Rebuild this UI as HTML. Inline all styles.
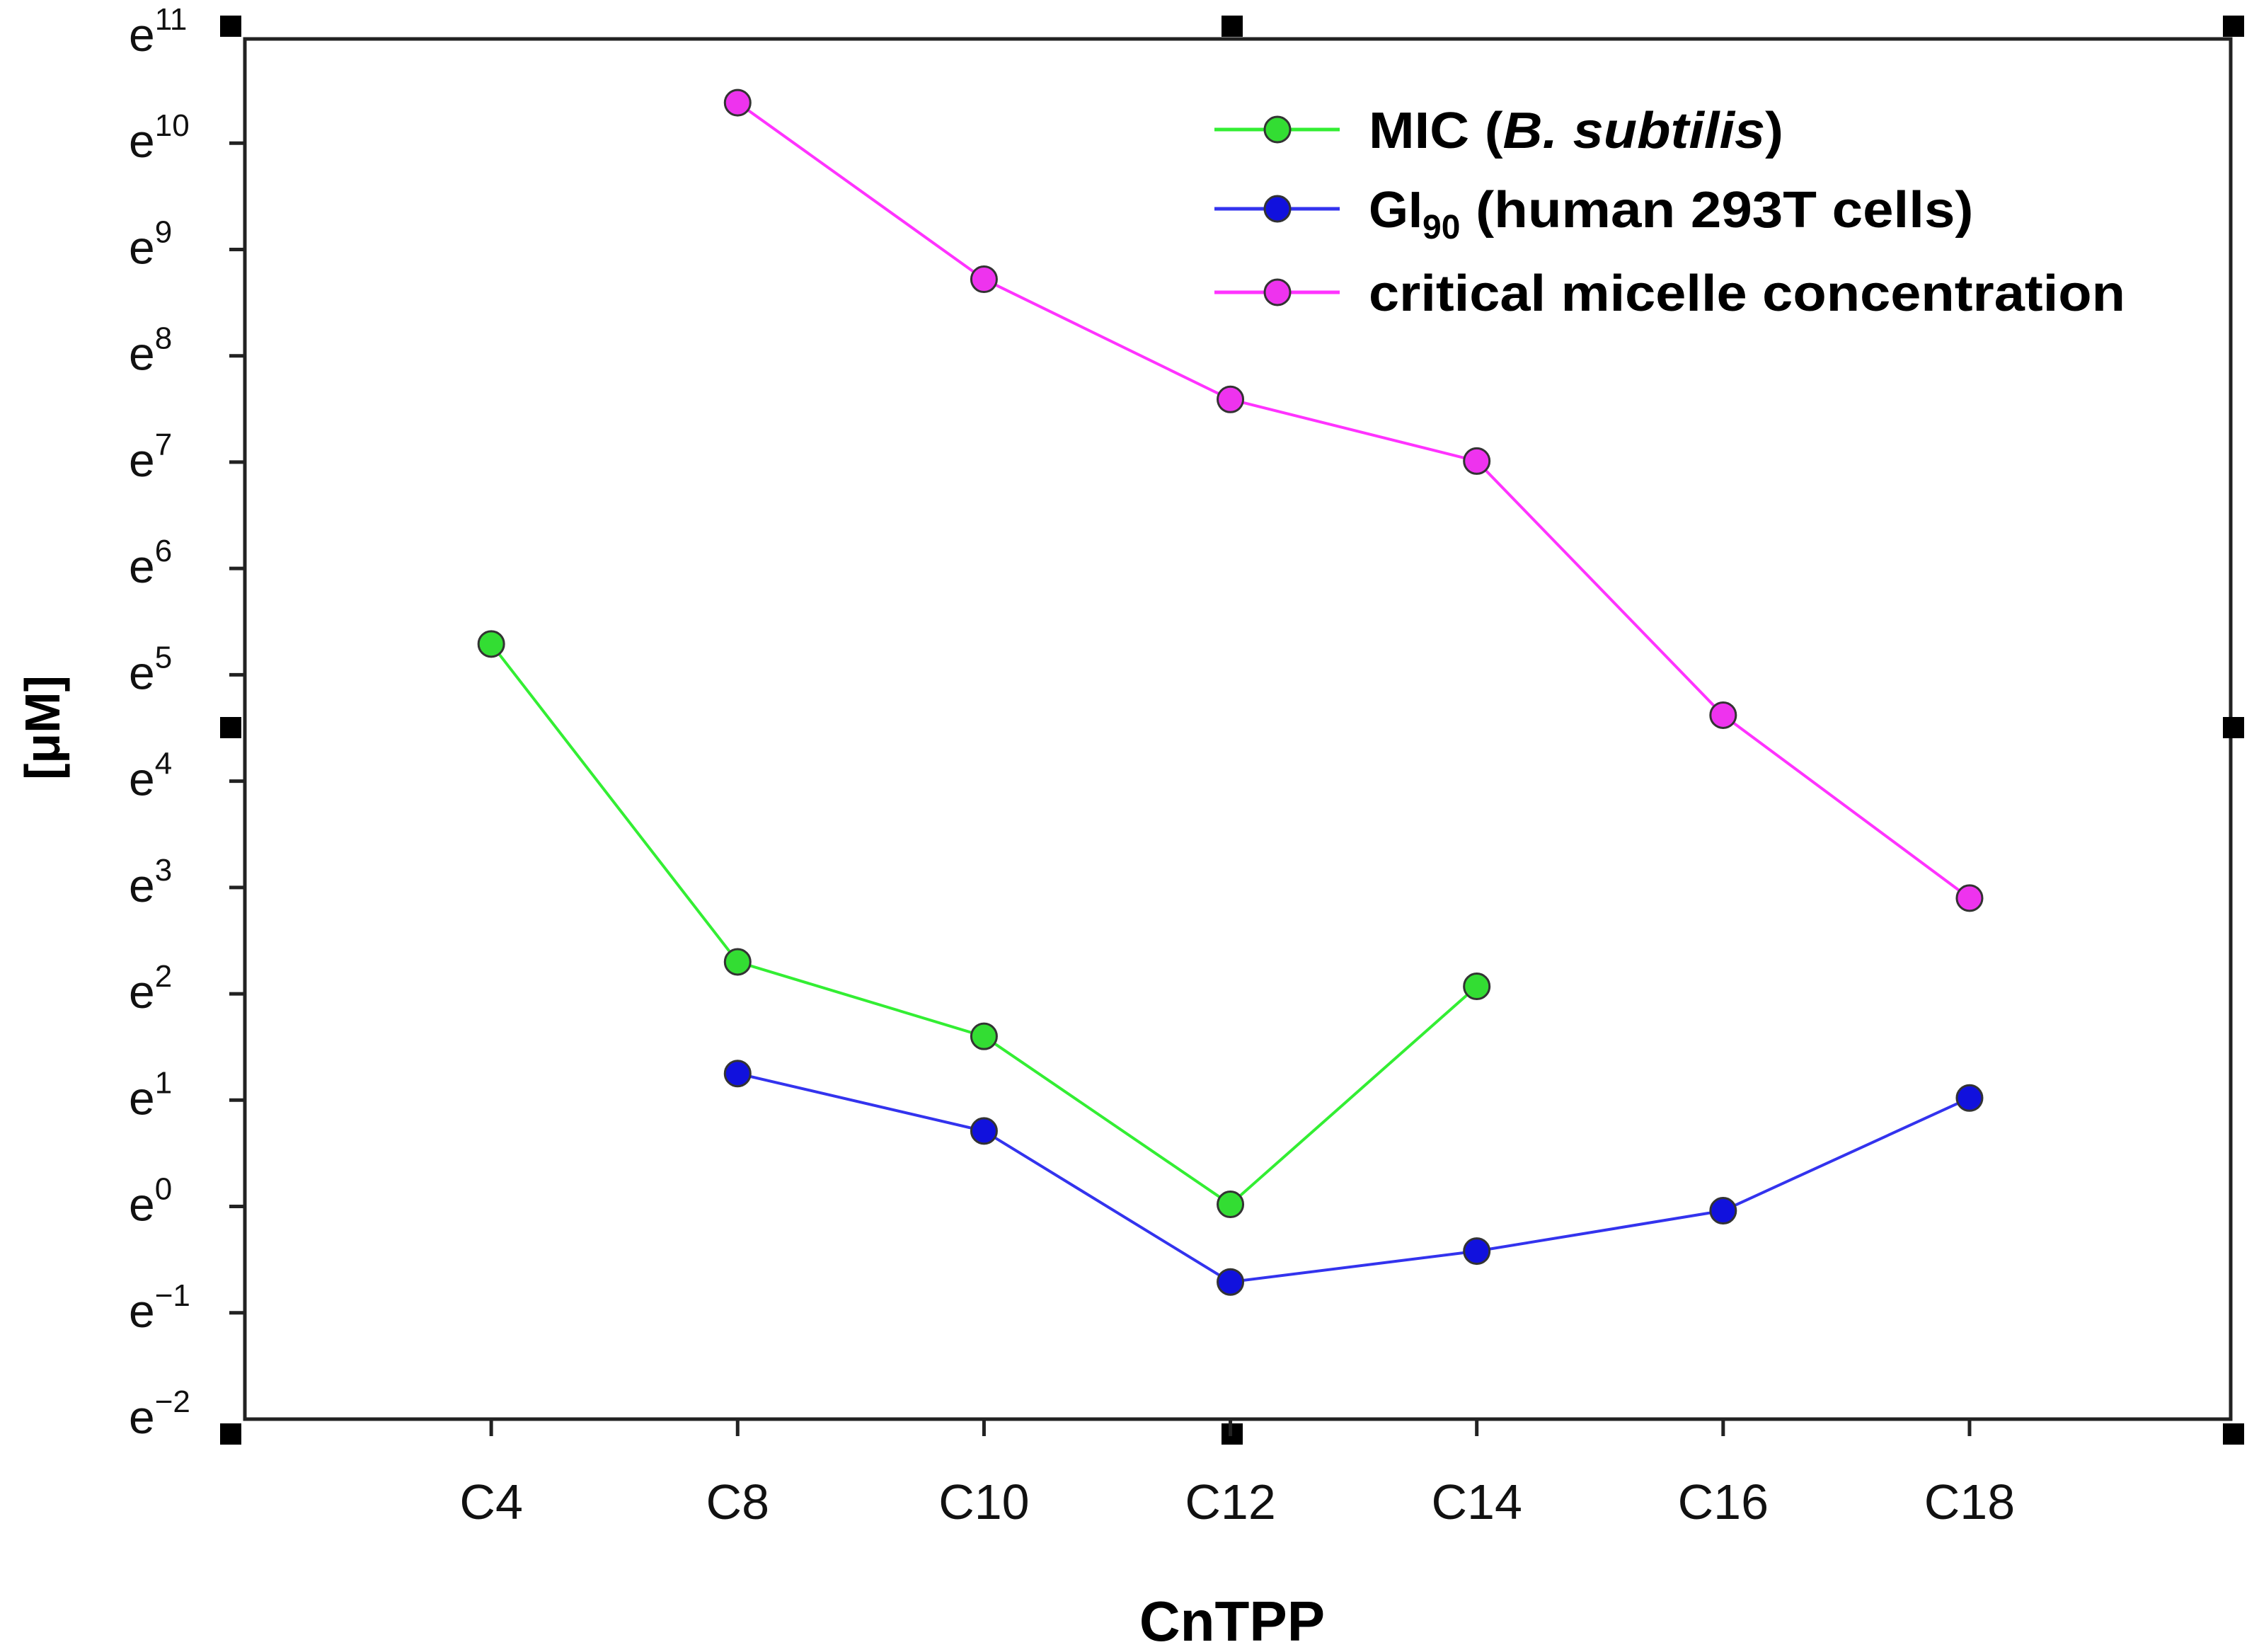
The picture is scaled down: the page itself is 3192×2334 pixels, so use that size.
<!DOCTYPE html>
<html><head><meta charset="utf-8"><style>
html,body{margin:0;padding:0;background:#fff}
svg{display:block}
text{font-family:"Liberation Sans",Arial,sans-serif}
</style></head><body>
<svg id="chart" width="3192" height="2334" viewBox="0 0 3192 2334" xmlns="http://www.w3.org/2000/svg">
<g id="frame"></g>
<g id="yaxis"></g>
<g id="xaxis"></g>
<g id="series"></g>
<text x="1741" y="2318" font-size="80" font-weight="bold" text-anchor="middle">CnTPP</text>
<text transform="translate(84,1028) rotate(-90)" font-size="70" font-weight="bold" text-anchor="middle">[μM]</text>
<g>
  <g>
    <line x1="1716" y1="183" x2="1893" y2="183" stroke="#33ee33" stroke-width="5"/>
    <circle cx="1805" cy="183" r="18" fill="#33dd33" stroke="#333" stroke-width="3"/>
    <text x="1934" y="209" font-size="72" font-weight="bold" textLength="586" lengthAdjust="spacingAndGlyphs">MIC (<tspan font-style="italic">B. subtilis</tspan>)</text>
  </g>
  <g>
    <line x1="1716" y1="295" x2="1893" y2="295" stroke="#3333ee" stroke-width="5"/>
    <circle cx="1805" cy="295" r="18" fill="#1111dd" stroke="#333" stroke-width="3"/>
    <text x="1934" y="321" font-size="72" font-weight="bold">GI<tspan font-size="48" dy="16">90</tspan><tspan dy="-16" textLength="725" lengthAdjust="spacingAndGlyphs"> (human 293T cells)</tspan></text>
  </g>
  <g>
    <line x1="1716" y1="413" x2="1893" y2="413" stroke="#ff33ff" stroke-width="5"/>
    <circle cx="1805" cy="413" r="18" fill="#ee33ee" stroke="#333" stroke-width="3"/>
    <text x="1934" y="439" font-size="72" font-weight="bold" textLength="1069" lengthAdjust="spacingAndGlyphs">critical micelle concentration</text>
  </g>
</g>
</svg>
<script>
const categories = ["C4","C8","C10","C12","C14","C16","C18"];
const yTicks = [-2,-1,0,1,2,3,4,5,6,7,8,9,10,11];
const micCats = ["C4","C8","C10","C12","C14"];
const micValues = [5.29,2.30,1.60,0.02,2.07];
const giCats = ["C8","C10","C12","C14","C16","C18"];
const giValues = [1.25,0.71,-0.71,-0.42,-0.04,1.02];
const cmcCats = ["C8","C10","C12","C14","C16","C18"];
const cmcValues = [10.38,8.72,7.59,7.01,4.62,2.90];

const NS="http://www.w3.org/2000/svg";
const L=346,R=3152,T=52,B=2005;
const xDomain=[0,8.06], yDomain=[-2,11];
function xs(c){const i=categories.indexOf(c)+1;return L+(i-xDomain[0])/(xDomain[1]-xDomain[0])*(R-L);}
function ys(v){return B-(v-yDomain[0])/(yDomain[1]-yDomain[0])*(B-T);}
function mk(tag,attrs,parent){const e=document.createElementNS(NS,tag);for(const k in attrs)e.setAttribute(k,attrs[k]);parent.appendChild(e);return e;}

const frame=document.getElementById('frame');
const box=mk('rect',{x:L,y:ys(11)+3,width:R-L,height:B-ys(11)-3,fill:'none',stroke:'#222','stroke-width':5},frame);


const sq=[[326,37],[1741,37],[3156,37],[326,1028],[3156,1028],[326,2026],[1741,2026],[3156,2026]];
sq.forEach(p=>{const r=mk('rect',{x:p[0]-15,y:p[1]-15,width:30,height:30,fill:'#000'},frame);

});

const ya=document.getElementById('yaxis');
yTicks.forEach(v=>{const y=ys(v);
 if(v>-2&&v<11){const t=mk('line',{x1:L-22,y1:y,x2:L,y2:y,stroke:'#222','stroke-width':5},ya);
 
 }
 const tx=mk('text',{x:182,y:y+20,'font-size':66,fill:'#111'},ya);
 
 
 tx.textContent='e';
 const s=mk('tspan',{'font-size':44,dy:-30},tx);s.textContent=(v<0?'−':'')+Math.abs(v);
});
const xa=document.getElementById('xaxis');
categories.forEach(c=>{const x=xs(c);
 const t=mk('line',{x1:x,y1:B,x2:x,y2:B+24,stroke:'#222','stroke-width':5},xa);
 
 
 const tx=mk('text',{x:x,y:2146,'font-size':70,'text-anchor':'middle',fill:'#111'},xa);
 
 
 tx.textContent=c;});

const sg=document.getElementById('series');
function drawSeries(name,cats,vals,line,fill){
 const g=mk('g',{},sg);
 
 
 const pts=cats.map((c,i)=>xs(c)+','+ys(vals[i])).join(' ');
 const pl=mk('polyline',{points:pts,fill:'none',stroke:line,'stroke-width':4},g);
 
 
 cats.forEach((c,i)=>{const m=mk('circle',{cx:xs(c),cy:ys(vals[i]),r:18,fill:fill,stroke:'#333','stroke-width':3},g);
 
 });
}
drawSeries('mic-series',micCats,micValues,'#33ee33','#33dd33');
drawSeries('gi90-series',giCats,giValues,'#3333ee','#1111dd');
drawSeries('cmc-series',cmcCats,cmcValues,'#ff33ff','#ee33ee');
</script>
</body></html>
